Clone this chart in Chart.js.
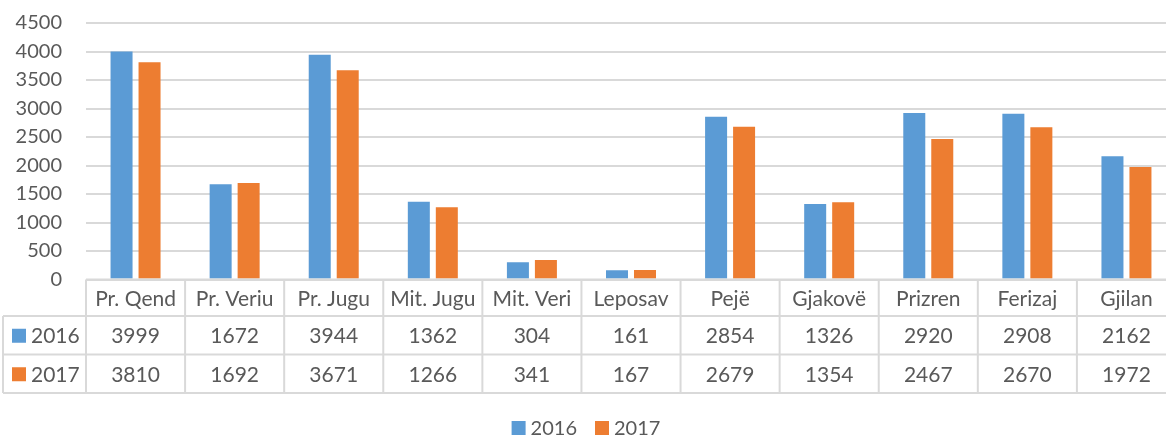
<!DOCTYPE html>
<html>
<head>
<meta charset="utf-8">
<script src="https://cdn.jsdelivr.net/npm/chart.js@4.4.0/dist/chart.umd.min.js"></script>
<style>
html, body { margin: 0; padding: 0; background: #fff; }
#wrap { width: 1166px; height: 436px; overflow: hidden; position: relative; }
#box { width: 1180px; height: 436px; }
</style>
</head>
<body>
<div id="wrap"><div id="box"><canvas id="chart"></canvas></div></div>
<script>
const regions = ['Pr. Qend', 'Pr. Veriu', 'Pr. Jugu', 'Mit. Jugu', 'Mit. Veri', 'Leposav', 'Pejë', 'Gjakovë', 'Prizren', 'Ferizaj', 'Gjilan'];
const values2016 = [3999, 1672, 3944, 1362, 304, 161, 2854, 1326, 2920, 2908, 2162];
const values2017 = [3810, 1692, 3671, 1266, 341, 167, 2679, 1354, 2467, 2670, 1972];
const seriesNames = ['2016', '2017'];
const yMin = 0, yMax = 4500, yStep = 500;

const BLUE = '#5b9bd5';
const ORANGE = '#ed7d31';
const TEXT = '#595959';
const LINE = '#d9d9d9';
const FONT = 'Lato, "Open Sans", sans-serif';

// draws the data table under the plot and the legend at the bottom
const dataTable = {
    id: 'dataTable',
    afterDraw(chart) {
        const ctx = chart.ctx;
        const area = chart.chartArea;
        const x = chart.scales.x;
        const n = chart.data.labels.length;
        const colW = (area.right - area.left) / n;
        const top = area.bottom;
        const rows = [top, top + 36.5, top + 75, top + 113.5];
        const keyLeft = 3;

        ctx.save();
        ctx.strokeStyle = LINE;
        ctx.lineWidth = 2;

        // horizontal lines
        ctx.beginPath();
        ctx.moveTo(area.left, rows[0]); ctx.lineTo(area.right, rows[0]);
        for (let r = 1; r < rows.length; r++) {
            ctx.moveTo(keyLeft, rows[r]); ctx.lineTo(area.right, rows[r]);
        }
        // vertical lines
        ctx.moveTo(keyLeft, rows[1]); ctx.lineTo(keyLeft, rows[3]);
        for (let i = 0; i <= n; i++) {
            const px = area.left + i * colW;
            ctx.moveTo(px, rows[0]); ctx.lineTo(px, rows[3]);
        }
        ctx.stroke();

        ctx.fillStyle = TEXT;
        ctx.font = '21px ' + FONT;
        ctx.textAlign = 'center';
        ctx.textBaseline = 'middle';

        chart.data.labels.forEach((lab, i) => {
            const cx = x.getPixelForValue(i);
            ctx.fillText(lab, cx, (rows[0] + rows[1]) / 2 + 1);
        });

        chart.data.datasets.forEach((ds, d) => {
            const cy = (rows[d + 1] + rows[d + 2]) / 2 + 1;
            ds.data.forEach((v, i) => {
                ctx.fillStyle = TEXT;
                ctx.fillText(String(v), x.getPixelForValue(i), cy);
            });
            // legend key inside table
            ctx.fillStyle = ds.backgroundColor;
            ctx.fillRect(12, cy - 7.5, 14, 14);
            ctx.fillStyle = TEXT;
            ctx.textAlign = 'left';
            ctx.fillText(ds.label, 31, cy);
            ctx.textAlign = 'center';
        });

        // bottom legend
        ctx.font = '20px ' + FONT;
        ctx.textAlign = 'left';
        const items = chart.data.datasets.map(ds => ({ label: ds.label, color: ds.backgroundColor, w: ctx.measureText(ds.label).width }));
        const gapBox = 5, gapItem = 18, box = 14;
        let total = 0;
        items.forEach((it, i) => { total += box + gapBox + it.w + (i < items.length - 1 ? gapItem : 0); });
        let lx = 586 - total / 2;
        const ly = 428;
        items.forEach(it => {
            ctx.fillStyle = it.color;
            ctx.fillRect(lx, ly - 7, box, box);
            ctx.fillStyle = TEXT;
            ctx.fillText(it.label, lx + box + gapBox, ly + 1);
            lx += box + gapBox + it.w + gapItem;
        });
        ctx.restore();
    }
};

new Chart(document.getElementById('chart'), {
    type: 'bar',
    data: {
        labels: regions,
        datasets: [
            { label: seriesNames[0], data: values2016, backgroundColor: BLUE, categoryPercentage: 0.565, barPercentage: 0.786 },
            { label: seriesNames[1], data: values2017, backgroundColor: ORANGE, categoryPercentage: 0.565, barPercentage: 0.786 }
        ]
    },
    options: {
        responsive: true,
        maintainAspectRatio: false,
        animation: false,
        layout: { padding: { top: 23, right: 4, bottom: 0, left: 0 } },
        plugins: {
            legend: { display: false },
            tooltip: { enabled: false }
        },
        scales: {
            x: {
                grid: { display: false },
                border: { display: false },
                ticks: { display: false },
                afterFit(scale) { scale.height = 156.5; }
            },
            y: {
                min: yMin,
                max: yMax,
                ticks: {
                    stepSize: yStep, color: TEXT, padding: 0,
                    font: { size: 20, family: FONT },
                    callback: v => String(v)
                },
                grid: { color: LINE, lineWidth: 2, tickLength: 24, tickColor: 'rgba(0,0,0,0)' },
                border: { display: false },
                afterFit(scale) { scale.width = 86; }
            }
        }
    },
    plugins: [dataTable]
});
</script>
</body>
</html>
